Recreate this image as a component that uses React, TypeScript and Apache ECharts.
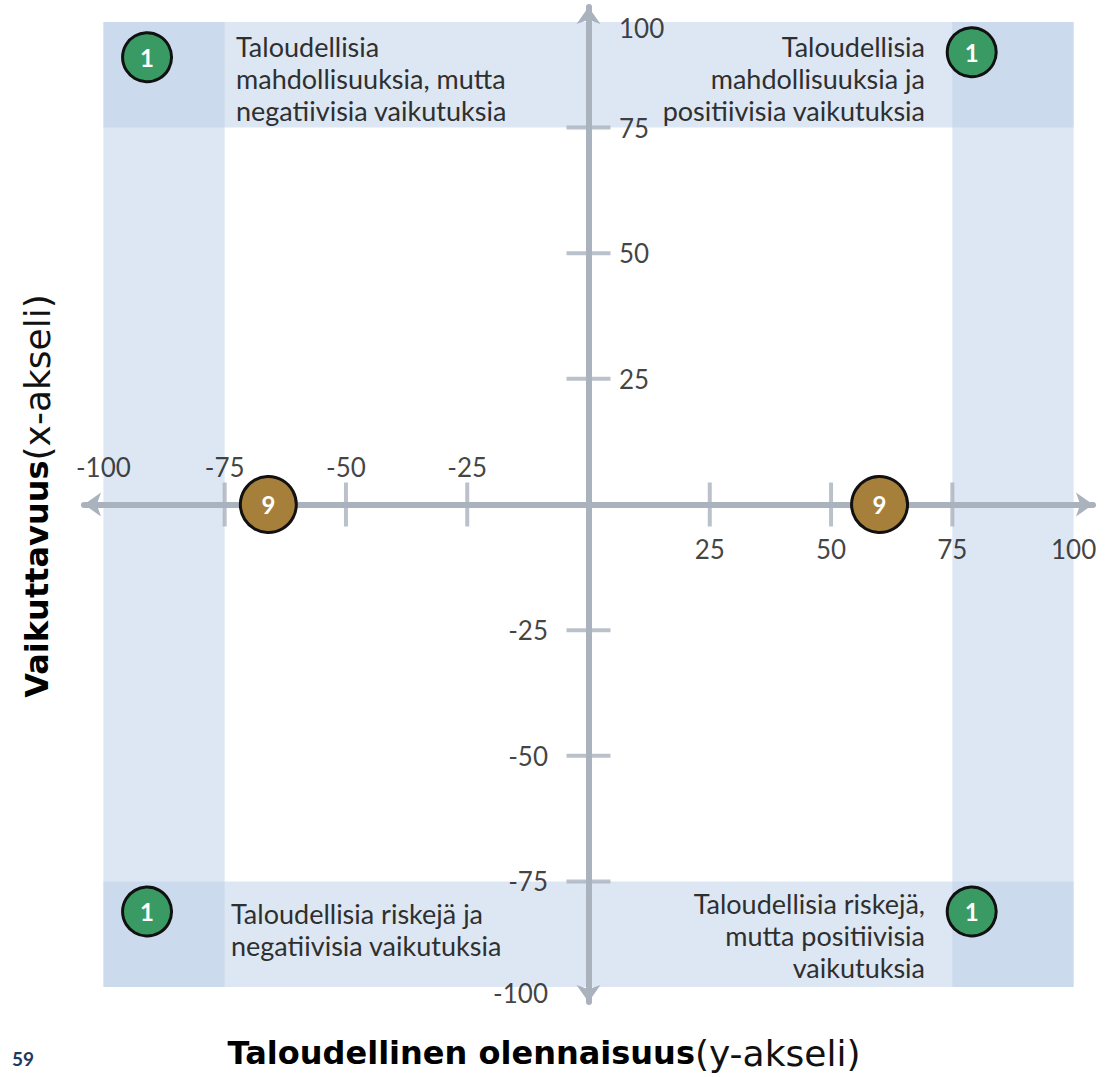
import React, { useEffect, useRef } from "react";
import * as echarts from "echarts";

// ---- data ----
const xTickValues = [-75, -50, -25, 25, 50, 75];
const yTickValues = [75, 50, 25, -25, -50, -75];
const xTickLabels = [-100, -75, -50, -25, 25, 50, 75, 100];
const yTickLabels = [100, 75, 50, 25, -25, -50, -75, -100];

// highlighted zones (value ranges)
const sideBandRanges = [[-100, -75], [75, 100]]; // x ranges, full height
const topBottomBandRanges = [[75, 96], [-96, -75]]; // y ranges, full width
const bandFullX = [-100, 100];
const bandFullY = [-96, 96];

// counts in zones
const zonePoints = [[-91, 89], [79, 90], [-91, -81], [79, -81]];
const zoneCounts = [1, 1, 1, 1];
const axisPoints = [[-66, 0], [60, 0]];
const axisCounts = [9, 9];

const quadrantTexts = [
  "Taloudellisia\nmahdollisuuksia, mutta\nnegatiivisia vaikutuksia",
  "Taloudellisia\nmahdollisuuksia ja\npositiivisia vaikutuksia",
  "Taloudellisia riskejä ja\nnegatiivisia vaikutuksia",
  "Taloudellisia riskejä,\nmutta positiivisia\nvaikutuksia",
];

const AXIS = "#aab2be";
const FONT = "Lato, 'Noto Sans', sans-serif";
const TITLE_FONT = "'DejaVu Sans', sans-serif";
const TEXT = "#2f2f2f";

export default function App() {
  const ref = useRef<HTMLDivElement>(null);
  useEffect(() => {
    const chart = echarts.init(ref.current!, null, { renderer: "svg" });
    const band = "rgba(186,208,231,0.51)";
    const markAreaData = [
      ...sideBandRanges.map(([a, b]) => [{ coord: [a, bandFullY[0]] }, { coord: [b, bandFullY[1]] }]),
      ...topBottomBandRanges.map(([a, b]) => [{ coord: [bandFullX[0], a] }, { coord: [bandFullX[1], b] }]),
    ];
    const axisCommon = {
      type: "value",
      z: 2,
      axisLine: {
        show: true,
        onZero: true,
        lineStyle: { color: AXIS, width: 6 },
        symbol: ["arrow", "arrow"],
        symbolSize: [18, 17],
      },
      axisTick: { show: false },
      axisLabel: { show: false },
      splitLine: { show: false },
    };
    const labelStyle = { fontSize: 26, color: "#111", fontFamily: FONT };
    const quadStyle = { fontSize: 27, lineHeight: 32, fill: TEXT, fontFamily: FONT };
    const titleRich = {
      b: { fontSize: 32, fontWeight: "bold", fontFamily: TITLE_FONT, fill: "#000", color: "#000" },
      r: { fontSize: 36, fontFamily: TITLE_FONT, fill: "#111", color: "#111" },
    };
    chart.setOption({
      animation: false,
      grid: { left: 84, top: 7, width: 1009, height: 995 },
      xAxis: { ...axisCommon, min: -104, max: 104 },
      yAxis: { ...axisCommon, min: -99, max: 99 },
      series: [
        {
          type: "scatter",
          data: [],
          z: 1,
          silent: true,
          markArea: { silent: true, itemStyle: { color: band }, data: markAreaData },
        },
        {
          type: "scatter",
          symbol: "rect",
          symbolSize: [4, 44],
          silent: true,
          z: 3,
          itemStyle: { color: AXIS },
          data: xTickValues.map((v) => [v, 0]),
        },
        {
          type: "scatter",
          symbol: "rect",
          symbolSize: [44, 4],
          silent: true,
          z: 3,
          itemStyle: { color: AXIS },
          data: yTickValues.map((v) => [0, v]),
        },
        {
          type: "scatter",
          symbolSize: 1,
          silent: true,
          z: 3,
          itemStyle: { color: "rgba(0,0,0,0)" },
          label: { show: true, formatter: "{b}", ...labelStyle },
          data: xTickLabels.map((v) => ({
            name: String(v),
            value: [v, 0],
            label: { position: v < 0 ? "top" : "bottom", distance: v < 0 ? 24 : 31 },
          })),
        },
        {
          type: "scatter",
          symbolSize: 1,
          silent: true,
          z: 3,
          itemStyle: { color: "rgba(0,0,0,0)" },
          label: { show: true, formatter: "{b}", ...labelStyle },
          data: yTickLabels.map((v) => ({
            name: String(v),
            value: [0, Math.max(bandFullY[0], Math.min(bandFullY[1], v))],
            label: {
              position: v > 0 ? "right" : "left",
              distance: v > 0 ? 30 : 40,
              offset: [0, Math.abs(v) === 100 ? 6 : 0],
            },
          })),
        },
        {
          type: "scatter",
          symbolSize: 49,
          z: 4,
          silent: true,
          itemStyle: { color: "#3a9a64", borderColor: "#111", borderWidth: 3, opacity: 1 },
          label: {
            show: true,
            position: "inside",
            formatter: "{b}",
            color: "#fff",
            fontWeight: "bold",
            fontSize: 24,
            fontFamily: FONT,
          },
          data: zonePoints.map((p, i) => ({ name: String(zoneCounts[i]), value: p })),
        },
        {
          type: "scatter",
          symbolSize: 56,
          z: 4,
          silent: true,
          itemStyle: { color: "#a67f3b", borderColor: "#111", borderWidth: 3, opacity: 1 },
          label: {
            show: true,
            position: "inside",
            formatter: "{b}",
            color: "#fff",
            fontWeight: "bold",
            fontSize: 24,
            fontFamily: FONT,
          },
          data: axisPoints.map((p, i) => ({ name: String(axisCounts[i]), value: p })),
        },
      ],
      graphic: [
        {
          type: "text",
          left: 236,
          top: 30,
          z: 5,
          style: { text: quadrantTexts[0], ...quadStyle, textAlign: "left" },
        },
        {
          type: "text",
          right: 1105 - 925,
          top: 30,
          z: 5,
          style: { text: quadrantTexts[1], ...quadStyle, textAlign: "right" },
        },
        {
          type: "text",
          left: 231,
          top: 897,
          z: 5,
          style: { text: quadrantTexts[2], ...quadStyle, textAlign: "left" },
        },
        {
          type: "text",
          right: 1105 - 925,
          top: 887,
          z: 5,
          style: { text: quadrantTexts[3], ...quadStyle, textAlign: "right" },
        },
        {
          type: "text",
          x: 544,
          y: 1053,
          z: 5,
          style: {
            text: "{b|Taloudellinen olennaisuus}{r|(y-akseli)}",
            textAlign: "center",
            textVerticalAlign: "middle",
            rich: titleRich,
          },
        },
        {
          type: "text",
          x: 37,
          y: 496,
          rotation: Math.PI / 2,
          z: 5,
          style: {
            text: "{b|Vaikuttavuus}{r|(x-akseli)}",
            textAlign: "center",
            textVerticalAlign: "middle",
            rich: titleRich,
          },
        },
        {
          type: "text",
          x: 12,
          y: 1058,
          z: 5,
          style: {
            text: "59",
            fontSize: 19,
            fontWeight: "bold",
            fill: "#1f3b5c",
            fontFamily: FONT,
            textVerticalAlign: "middle",
          },
        },
      ],
    });
    return () => chart.dispose();
  }, []);
  return (
    <div
      ref={ref}
      style={{ position: "absolute", left: 0, top: 0, width: 1105, height: 1077, background: "#fff" }}
    />
  );
}
